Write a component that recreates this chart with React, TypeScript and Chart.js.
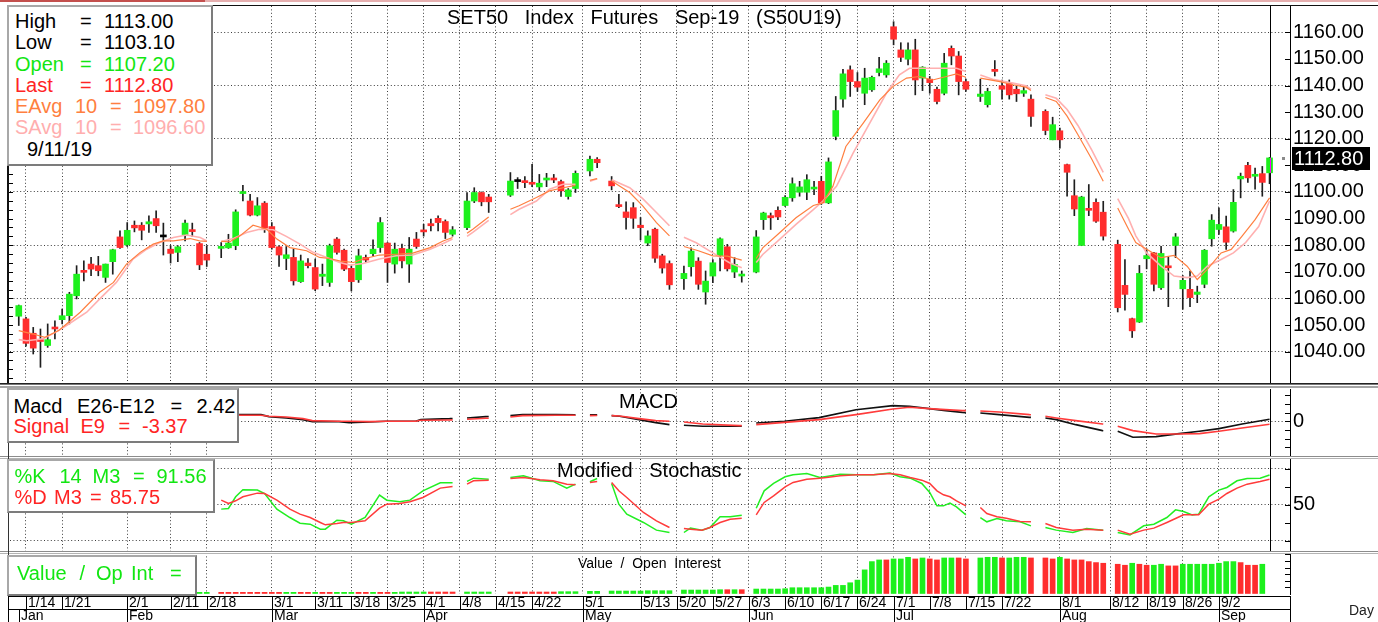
import React, { useEffect, useRef } from "react";
import { Chart, registerables } from "chart.js";

Chart.register(...registerables);

const FONT = "'Liberation Sans', Arial, Helvetica, sans-serif";
const NARROW = "'Liberation Sans Narrow', 'Arial Narrow', 'Liberation Sans', sans-serif";

// ---------------- calendar ----------------
const HOLIDAYS = ["2/19", "4/8", "4/15", "4/16", "5/1", "5/6", "5/20", "6/3", "7/16", "7/29", "8/12"];
const WEEK_TICKS = ["1/14", "1/21", "2/1", "2/11", "2/18", "3/1", "3/11", "3/18", "3/25", "4/1", "4/8", "4/15", "4/22", "5/1", "5/13", "5/20", "5/27", "6/3", "6/10", "6/17", "6/24", "7/1", "7/8", "7/15", "7/22", "8/1", "8/12", "8/19", "8/26", "9/2"];
const MONTH_TICKS: [string, string][] = [["Jan", "1/11"], ["Feb", "2/1"], ["Mar", "3/1"], ["Apr", "4/1"], ["May", "5/1"], ["Jun", "6/3"], ["Jul", "7/1"], ["Aug", "8/1"], ["Sep", "9/2"]];
const LAST_DATE = "9/11/19";

// ---------------- daily OHLC (trading days 1/11 .. 9/11) ----------------
const OPEN = [
  1053.3, 1052.3, 1046.9, 1044.5, 1042.3, 1049.1, 1052.0, 1053.5, 1061.0, 1070.1, 1072.9, 1072.3, 1067.9, 1073.8, 1083.1, 1080.1, 1087.5, 1087.5, 1088.0, 1090.0, 1083.1, 1078.5, 1077.3, 1084.0, 1085.5, 1080.6, 1076.6,
  1078.8, 1079.0, 1079.8, 1099.4, 1096.6, 1091.3, 1095.8, 1087.0, 1079.4, 1075.0, 1075.4, 1066.3, 1073.3, 1071.6, 1068.3, 1066.0, 1082.3, 1078.1, 1071.3, 1067.0, 1075.4, 1076.8, 1079.1, 1080.8, 1072.9, 1078.8, 1072.9, 1082.3, 1085.6, 1088.1, 1090.1, 1088.9, 1084.1,
  1086.6, 1096.6, 1099.8, 1098.1,
  1098.8, 1103.9, 1104.1, 1103.5, 1101.9, 1104.5, 1105.0, 1103.9, 1098.3, 1101.3,
  1107.9, 1112.3,
  1104.1, 1095.0, 1092.5, 1094.1, 1087.5, 1080.8, 1086.0, 1076.0, 1073.1,
  1067.4, 1071.9, 1074.0, 1062.4, 1068.4, 1076.1, 1079.4, 1069.9, 1068.4,
  1069.9, 1089.6, 1091.1, 1093.1, 1094.9, 1097.8, 1099.9, 1099.9, 1101.1, 1104.0, 1095.9, 1120.9, 1134.9, 1145.9, 1141.5, 1137.1, 1138.4, 1144.9, 1144.0, 1162.1, 1153.4, 1149.9, 1153.4, 1142.8, 1142.4, 1138.6, 1137.1, 1154.0, 1151.1, 1141.5,
  1135.9, 1132.8, 1146.1, 1139.9, 1140.9, 1138.6, 1137.1, 1134.9,
  1130.3, 1119.6, 1123.0, 1110.3, 1098.6, 1079.9, 1093.6, 1096.1, 1092.4,
  1080.3, 1064.9, 1052.4, 1051.1, 1074.9, 1077.1, 1064.0, 1072.1, 1079.9, 1063.6, 1063.4, 1061.5, 1065.3, 1082.4, 1085.9, 1086.9, 1085.3, 1104.9, 1110.0, 1105.9, 1106.9, 1107.2,
];
const HIGH = [
  1057.5, 1052.9, 1049.1, 1048.5, 1050.4, 1051.6, 1056.0, 1062.3, 1072.3, 1074.1, 1075.4, 1075.8, 1072.9, 1078.5, 1085.4, 1088.5, 1089.1, 1088.5, 1091.0, 1092.9, 1088.3, 1079.8, 1079.8, 1089.4, 1088.3, 1081.0, 1079.8,
  1081.0, 1084.1, 1093.3, 1102.5, 1099.1, 1097.9, 1096.4, 1088.5, 1079.8, 1079.5, 1078.5, 1076.3, 1075.0, 1074.8, 1072.9, 1080.4, 1082.9, 1078.5, 1072.3, 1078.5, 1076.3, 1082.0, 1090.4, 1081.0, 1080.8, 1080.4, 1082.9, 1084.8, 1087.9, 1089.8, 1091.0, 1089.5, 1087.0,
  1099.8, 1101.6, 1100.0, 1099.1,
  1107.3, 1105.4, 1105.8, 1110.4, 1106.6, 1107.0, 1106.6, 1104.5, 1101.3, 1107.9,
  1113.5, 1112.9,
  1105.8, 1099.1, 1096.3, 1096.0, 1090.4, 1085.4, 1086.4, 1076.6, 1074.1,
  1072.1, 1079.0, 1075.3, 1070.3, 1074.6, 1082.8, 1080.3, 1075.3, 1070.3,
  1085.5, 1092.4, 1092.1, 1094.4, 1098.6, 1105.3, 1104.0, 1106.5, 1104.0, 1105.9, 1112.8, 1135.9, 1146.1, 1147.4, 1144.9, 1146.5, 1143.6, 1150.6, 1149.4, 1164.0, 1156.1, 1156.1, 1157.4, 1147.1, 1143.4, 1139.4, 1152.1, 1154.9, 1152.8, 1142.4,
  1142.4, 1139.0, 1149.4, 1142.1, 1142.1, 1139.9, 1139.4, 1136.5,
  1130.9, 1128.1, 1124.0, 1110.5, 1104.6, 1098.4, 1102.8, 1097.4, 1096.5,
  1081.9, 1074.6, 1052.6, 1072.4, 1078.6, 1077.3, 1079.6, 1075.6, 1084.4, 1068.6, 1070.3, 1064.6, 1078.4, 1091.5, 1094.0, 1090.9, 1100.9, 1107.1, 1111.1, 1109.0, 1109.6, 1113.0,
];
const LOW = [
  1049.8, 1042.0, 1039.1, 1034.1, 1041.6, 1044.8, 1050.4, 1050.4, 1059.8, 1066.6, 1068.5, 1068.5, 1066.0, 1069.1, 1078.8, 1079.5, 1085.0, 1082.0, 1084.8, 1084.8, 1076.3, 1073.3, 1073.8, 1081.6, 1083.3, 1070.8, 1072.0,
  1075.3, 1078.8, 1078.3, 1096.6, 1091.0, 1091.0, 1084.8, 1078.5, 1072.0, 1070.8, 1065.0, 1066.0, 1071.5, 1062.9, 1064.8, 1064.5, 1076.6, 1070.4, 1062.8, 1066.0, 1073.5, 1076.0, 1077.3, 1066.0, 1069.5, 1071.5, 1066.0, 1078.8, 1083.4, 1085.4, 1085.4, 1082.5, 1083.4,
  1085.8, 1096.0, 1094.8, 1092.3,
  1098.3, 1101.3, 1101.6, 1102.0, 1100.5, 1102.0, 1103.5, 1098.3, 1097.3, 1099.8,
  1106.0, 1109.1,
  1100.8, 1094.1, 1086.0, 1086.3, 1082.0, 1079.8, 1073.5, 1069.5, 1063.4,
  1063.4, 1068.4, 1063.4, 1057.8, 1065.9, 1070.3, 1070.3, 1067.8, 1066.1,
  1069.6, 1085.9, 1085.9, 1089.6, 1094.6, 1096.5, 1098.4, 1097.1, 1099.0, 1095.3, 1095.6, 1119.6, 1131.9, 1135.9, 1137.8, 1132.8, 1137.8, 1143.6, 1143.1, 1155.3, 1149.0, 1147.8, 1136.5, 1138.1, 1137.1, 1133.1, 1136.5, 1147.8, 1136.5, 1137.8,
  1134.0, 1131.9, 1143.6, 1134.9, 1134.9, 1134.0, 1135.9, 1124.6,
  1121.5, 1119.6, 1116.5, 1098.4, 1091.1, 1079.8, 1091.1, 1088.6, 1081.9,
  1054.9, 1055.6, 1045.3, 1050.9, 1071.1, 1062.8, 1063.4, 1056.9, 1075.3, 1055.9, 1056.9, 1058.4, 1064.0, 1079.6, 1084.0, 1078.4, 1084.9, 1097.8, 1103.6, 1101.1, 1098.4, 1103.1,
];
const CLOSE = [
  1057.3, 1043.1, 1041.3, 1043.8, 1044.5, 1048.5, 1053.5, 1061.6, 1069.1, 1069.8, 1071.0, 1070.4, 1072.9, 1078.3, 1079.1, 1085.6, 1086.5, 1085.6, 1088.8, 1087.3, 1083.1, 1076.9, 1079.4, 1088.3, 1085.1, 1072.6, 1074.4,
  1079.4, 1080.8, 1092.5, 1099.9, 1091.3, 1094.8, 1086.4, 1079.1, 1076.3, 1076.4, 1066.6, 1074.1, 1072.3, 1063.5, 1069.1, 1079.8, 1077.3, 1071.0, 1066.3, 1076.0, 1074.4, 1078.5, 1088.5, 1073.5, 1078.5, 1074.1, 1078.5, 1079.5, 1085.0, 1087.3, 1088.5, 1084.8, 1085.8,
  1096.6, 1099.8, 1096.3, 1096.3,
  1104.1, 1103.9, 1103.5, 1102.9, 1103.3, 1105.0, 1104.5, 1100.4, 1100.8, 1107.0,
  1112.3, 1111.0,
  1102.3, 1094.5, 1090.4, 1090.1, 1086.6, 1083.5, 1075.1, 1071.4, 1065.1,
  1069.4, 1077.8, 1065.3, 1066.5, 1073.4, 1082.4, 1071.1, 1072.8, 1068.9,
  1083.1, 1092.1, 1090.3, 1090.6, 1098.0, 1103.1, 1101.9, 1104.6, 1101.5, 1095.9, 1111.3, 1130.6, 1144.4, 1141.5, 1139.4, 1142.8, 1143.1, 1146.3, 1148.4, 1157.4, 1150.6, 1153.4, 1142.1, 1146.9, 1141.1, 1134.0, 1148.4, 1151.1, 1141.5, 1138.6,
  1136.8, 1137.8, 1145.3, 1138.6, 1136.5, 1136.9, 1138.1, 1128.4,
  1123.1, 1125.3, 1119.6, 1107.4, 1093.6, 1098.1, 1093.1, 1089.0, 1083.4,
  1056.5, 1061.5, 1047.8, 1069.4, 1076.1, 1065.3, 1076.9, 1071.5, 1083.1, 1066.8, 1060.3, 1062.4, 1078.1, 1089.4, 1087.8, 1081.1, 1096.1, 1105.9, 1105.3, 1106.5, 1103.6, 1112.8,
];

// ---------------- moving averages, read as [session slot, value] ----------------
const EAVG10: [number, number][] = [
  [0, 1047.9], [2, 1046.6], [3.6, 1045.4], [5.5, 1047.9], [6.6, 1050.4], [8.5, 1054.8], [11.2, 1062.3], [13.1, 1066], [14.9, 1072.9], [16.8, 1077.3], [18.6, 1080.4], [20, 1081.6], [21.4, 1081.6], [23.7, 1082.5], [25, 1081.6], [26, 1081.4],
  [28, 1081.4], [29.2, 1081.3], [30.6, 1083.5], [32.4, 1087.5], [34.3, 1086], [35.7, 1082.3], [37.5, 1079.1], [39.8, 1077.9], [41.6, 1075.4], [43, 1075], [44.5, 1074], [46.3, 1073.5], [47.6, 1074.8], [49.9, 1076.3], [52.2, 1076.6], [54.5, 1077], [56.9, 1079.1], [58.7, 1081.6], [60, 1082.9],
  [62, 1084.5], [62.8, 1086], [64.9, 1090.4], [65, 1090.6],
  [68, 1093.5], [69.2, 1094.8], [71.6, 1097.9], [73.4, 1100.4], [75.3, 1101.6], [77, 1102.5],
  [79, 1104.4], [80, 1105],
  [82, 1104.1], [84.5, 1099.8], [86.3, 1094.8], [88.2, 1088.5], [90, 1083.5],
  [92, 1079.5], [94, 1077.9], [96, 1076], [98, 1075.9], [100, 1074.4],
  [102, 1075], [102.9, 1079], [105.2, 1084.6], [107.5, 1090.3], [109.9, 1094.9], [111.2, 1095.9], [112.6, 1102.1], [114.4, 1117.1], [116.8, 1125.9], [119.1, 1134.6], [120.9, 1139.6], [122.8, 1142.8], [124.6, 1143.4], [126.4, 1142.1], [128.3, 1143.4], [129.7, 1144.4], [131, 1143.1],
  [133, 1142.8], [135.7, 1141.5], [137.5, 1140.3], [139.3, 1139.4], [140, 1138.1],
  [142, 1135.5], [143.5, 1134], [145, 1128.5], [146.5, 1121.5], [148.4, 1112.4], [150, 1104],
  [152, 1094], [153.5, 1086], [154.5, 1081], [156, 1078.5], [158, 1075.3], [159.8, 1076.2], [161.6, 1072.1], [163, 1067.1], [164.4, 1070.9], [166.3, 1077.1], [167.7, 1078.4], [169.2, 1083.4], [171, 1089.6], [173, 1097.8],
];
const SAVG10: [number, number][] = [
  [0, 1044.5], [1.1, 1044.1], [3.4, 1044.8], [5.5, 1047.9], [6.6, 1049.8], [9.4, 1054.8], [11.2, 1059.8], [13.5, 1066], [15.8, 1074.8], [17.7, 1078.5], [19.5, 1081], [21.4, 1082.9], [23.2, 1083.8], [25.1, 1082.9], [26, 1081.6],
  [28, 1081.4], [29.7, 1082.5], [31.5, 1084.8], [33.3, 1086], [35.2, 1085.8], [37, 1083.3], [38.9, 1080.4], [40.7, 1077.3], [42.6, 1075.4], [44.4, 1073.5], [45.8, 1072.5], [47.6, 1073.1], [49.9, 1074.8], [52.2, 1076], [54.5, 1076.3], [56.9, 1078.5], [58.7, 1080.6], [60, 1082.3],
  [62, 1083.3], [62.8, 1084.8], [64.9, 1089.1], [65, 1089.3],
  [68, 1091.5], [69.2, 1093.5], [71.6, 1096.6], [73.4, 1101], [75.3, 1102.9], [77, 1102.9],
  [79, 1104], [80, 1105],
  [82, 1104.6], [84.5, 1101.6], [86.3, 1097.5], [88.2, 1092.3], [90, 1087.3],
  [92, 1083], [93.7, 1080.9], [96, 1077.1], [98.3, 1073.4], [100, 1071.5],
  [102, 1073.5], [102.9, 1076.5], [105.2, 1082.1], [107.5, 1087.8], [109.9, 1093.4], [111.2, 1096.5], [113.1, 1102.1], [115.4, 1114.6], [117.7, 1125.9], [120, 1137.1], [121.8, 1144], [123.2, 1146.5], [125.5, 1146.5], [128.3, 1146.5], [129.7, 1146.5], [131, 1145.3],
  [133, 1144], [134.7, 1142.4], [137.5, 1140.9], [139.3, 1139.9], [140, 1138.6],
  [142, 1136.5], [143.5, 1135.2], [145, 1131], [146.5, 1125], [148.4, 1115.8], [150, 1107.4],
  [152, 1097.5], [153.5, 1090], [154.5, 1083.5], [156, 1077.1], [158, 1072.1], [159.8, 1068.4], [161.6, 1067.8], [163, 1068.4], [164.4, 1072.1], [166.3, 1074.6], [168, 1077.1], [169.7, 1081], [171.5, 1087], [173, 1096.6],
];

// ---------------- MACD (E26-E12) and signal (E9) ----------------
const MACD_LINE: [number, number][] = [
  [28, 7.7], [30.5, 7.7], [33.5, 7.7], [34.6, 5.4], [37, 3.9], [39.3, 1.9], [40.6, -0.4], [44.3, -0.4], [45.7, -1.5], [48.5, -0.8], [50.8, 0], [54.9, 0], [55.6, 1.9], [59.6, 3.1], [60, 3.3],
  [62, 3.9], [64.6, 5.4], [65, 5.6], [68, 6.6], [69.7, 7.7], [74.3, 7.7], [77, 7.4], [79, 7.4], [80, 7.4],
  [82, 6.6], [83.1, 5.8], [85.8, 1.9], [88.1, -1.5], [90, -3.9], [92, -4.6], [94.6, -5.8], [100, -5.8],
  [102, -1.9], [105.9, 0], [110.7, 4.3], [115.8, 13.5], [120.9, 18.2], [123.2, 17.4], [125.9, 14.7], [128.2, 12.4], [130.5, 10.4], [131, 10.1],
  [133, 9.7], [135.6, 7.7], [139.8, 4.6], [140, 4.5], [142, 3.9], [143.5, 1.9], [146.2, -3.9], [149.9, -10.8], [150, -10.9],
  [152, -11.6], [154.1, -18.6], [157.3, -17.8], [160.5, -14.3], [163.3, -11.6], [166, -8.5], [169.2, -3.1], [173, 2.42],
];
const SIGNAL_LINE: [number, number][] = [
  [28, 7.0], [30.5, 7.0], [33.5, 7.0], [34.6, 5.8], [37, 5.0], [39.3, 3.1], [40.6, 0.8], [44.3, 0], [45.7, 0], [48.5, -0.4], [50.8, 0], [54.9, 0], [55.6, 1.2], [59.6, 1.5], [60, 1.6],
  [62, 2.3], [64.6, 3.5], [65, 3.6], [68, 5.0], [69.7, 6.6], [74.3, 7.0], [77, 7.0], [79, 6.6], [80, 6.8],
  [82, 6.6], [83.1, 6.2], [85.8, 3.1], [88.1, 0.8], [90, 0], [92, -0.8], [94.6, -3.1], [99.7, -5.0], [100, -5.0],
  [102, -3.9], [105.9, -1.2], [110.7, 1.9], [115.8, 7.7], [120.9, 14.3], [123.2, 16.3], [125.9, 14.7], [128.2, 13.5], [130.5, 12.4], [131, 12.4],
  [133, 12.0], [135.6, 10.8], [139.8, 7.7], [140, 7.6], [142, 5.8], [143.5, 3.9], [146.2, 0.8], [149.9, -3.1], [150, -3.2],
  [152, -5.8], [154.1, -10.8], [157.3, -14.7], [160.5, -14.7], [163.3, -14.3], [166, -11.6], [169.2, -7.7], [173, -3.37],
];

// ---------------- Modified stochastic %K 14 M3 and %D M3 ----------------
const STOCH_K: [number, number][] = [
  [28, 44.0], [29, 44.9], [30, 61.2], [31, 70.9], [33, 70.5], [34, 65.8], [35.7, 44.0], [37.5, 32.3], [38.9, 24.4], [40.3, 23.0], [41.7, 16.1], [42.4, 16.1], [44, 28.6], [44.9, 27.7], [46, 23.0], [47.9, 32.3], [49.9, 63.5], [50.9, 56.5], [52.7, 54.2], [54.1, 56.5], [55.9, 69.5], [58.3, 80.7], [60, 80.7],
  [62, 82.6], [62.9, 87.2], [65, 85.8], [68, 88.1], [69.8, 90.5], [72.1, 83.5], [73.9, 82.6], [75.8, 73.3], [77, 78.8], [79, 82.1], [80, 86.7],
  [82, 79.8], [83, 50.9], [84.1, 37.0], [86.4, 25.4], [88.2, 14.7], [90, 11.4], [92, 11.4], [92.9, 17.5], [94.5, 14.7], [95.6, 18.4], [97, 33.3], [98.4, 33.3], [100, 35.6],
  [102, 45.3], [103.1, 69.5], [104.4, 79.8], [106, 89.1], [107.1, 91.9], [109, 93.7], [110.8, 88.1], [111.7, 89.5], [113.6, 92.8], [115.9, 91.9], [118.2, 91.9], [120.5, 94.2], [121.9, 89.1], [123.3, 87.2], [124.9, 79.8], [126, 67.2], [127, 48.6], [127.9, 48.6], [128.8, 52.3], [129.7, 47.2], [131, 36.0],
  [133, 32.3], [133.9, 26.3], [135.3, 30.9], [136.6, 27.7], [138.5, 26.3], [140, 20.7], [142, 18.4], [143.5, 14.7], [145.8, 11.4], [147.7, 17.0], [150, 14.7],
  [152, 11.4], [153.7, 8.1], [155.6, 20.7], [157, 23.0], [158.8, 32.3], [160, 43.0], [161.1, 40.7], [162.3, 36.0], [163.2, 37.0], [164.6, 61.2], [166, 70.5], [167.1, 74.2], [168.5, 83.5], [169.9, 86.7], [171.7, 87.2], [173, 91.56],
];
const STOCH_D: [number, number][] = [
  [28, 56.5], [29, 51.9], [30, 55.6], [31, 61.2], [33, 66.3], [34, 65.8], [35.7, 56.5], [37.5, 44.0], [38.9, 37.0], [40.3, 32.3], [41.7, 25.4], [42.4, 22.1], [44, 24.0], [44.9, 25.4], [46, 25.4], [47.9, 27.7], [49.9, 45.4], [50.9, 50.9], [52.7, 51.9], [54.1, 54.2], [55.9, 60.2], [58.3, 73.3], [60, 75.6],
  [62, 78.8], [62.9, 83.5], [65, 84.4], [68, 86.7], [69.8, 88.1], [72.1, 84.9], [73.9, 83.5], [75.8, 78.8], [77, 77.9], [79, 81.2], [80, 82.6],
  [82, 81.2], [83, 69.5], [84.1, 60.2], [86.4, 39.3], [88.2, 27.7], [90, 18.4], [92, 17.0], [92.9, 16.1], [94.5, 14.7], [95.6, 18.4], [97, 25.4], [98.4, 30.0], [100, 31.4],
  [102, 36.0], [103.1, 53.3], [104.4, 62.6], [106, 75.1], [107.1, 81.2], [109, 85.8], [110.8, 87.2], [111.7, 88.1], [113.6, 90.5], [115.9, 91.9], [118.2, 91.9], [120.5, 93.7], [121.9, 91.9], [123.3, 88.1], [124.9, 84.4], [126, 79.8], [127, 69.5], [127.9, 64.0], [128.8, 61.2], [129.7, 55.6], [131, 48.6],
  [133, 46.3], [133.9, 37.9], [135.3, 33.3], [136.6, 31.4], [138.5, 26.8], [140, 26.3], [142, 24.0], [143.5, 18.4], [145.8, 14.7], [147.7, 16.1], [150, 14.7],
  [152, 14.7], [153.7, 9.1], [155.6, 14.7], [157, 17.5], [158.8, 25.4], [160, 30.9], [161.1, 36.0], [162.3, 36.0], [163.2, 36.0], [164.6, 50.9], [166, 57.9], [167.1, 65.8], [168.5, 73.3], [169.9, 78.8], [171.7, 82.6], [173, 85.75],
];

// ---------------- Value / Open Interest (per trading day, relative units) ----------------
const VALUE_OI: (number | null)[] = [
  4, 4, 4, 4, 4, 4, 4, 4, 4, 4, 4, 4, 4, 4, 4, 4, 4, 4, 4, 4, 4, 4, 4, 4, 4, 5, 5,
  5, 5, 5, 5, 5, 5, 5, 5, 5, 5, 5, 5, 5, 5, 5, 5, 5, 5, 5, 5, 5, 5, 5, 5, 5, 6, 6, 6, 6, 6, 6, 6, 6,
  6, 6, 6, 6,
  6, 6, 6, 6, 6, 6, 6, 7, 7, 7,
  8, 8,
  9, 9, 9, 9, 9, 10, 10, 10, 10,
  12, 12, 12, 12, 12, 13, 13, 13, 13,
  15, 15, 15, 15, 16, 19, 19, 19, 19, 19, 21, 26, 26, 34, 42, 73, 98, 103, 103, 106, 106, 111, 106, 109, 106, 103, 109, 109, 109, 106,
  109, 111, 111, 109, 109, 111, 111, 109,
  109, 106, 111, 106, 103, 103, 98, 95, 93,
  90, 87, 93, 90, 87, 87, 90, 85, 85, 90, 90, 90, 90, 90, 93, 98, 98, 95, 87, 87, 90, null,
];
const VALUE_OI_DIR =
  "ggrggrrggrgrrgggrrggrggrrgg" +
  "rrrrrrr" + "rrggrrgrrgggrrgrrg" + "gggg" + "rrrr" +
  "gggg" +
  "rrrrrrrggg" +
  "gg" +
  "ggggggggg" +
  "ggggggrgr" +
  "gggggggggggggggggg" + "rgggrgrrggrr" +
  "gggrgggr" +
  "rrgrrrrrr" +
  "rrgrrggrrggggggggrrrgg";

// ---------------- axis values ----------------
const PRICE_TICKS = [1040, 1050, 1060, 1070, 1080, 1090, 1100, 1110, 1120, 1130, 1140, 1150, 1160];
const MACD_MARKS = [-30, -20, -10, 0, 10, 20, 30];
const STOCH_MARKS = [0, 25, 50, 75, 100];
const VALUE_MARKS = [20, 40, 60, 80, 100, 120];

// ---------------- derived calendar helpers ----------------
function weekdaySlots(): string[] {
  const out: string[] = [];
  const d = new Date(2019, 0, 11);
  const end = new Date(2019, 8, 11);
  while (d <= end) {
    const wd = d.getDay();
    if (wd > 0 && wd < 6) out.push(`${d.getMonth() + 1}/${d.getDate()}`);
    d.setDate(d.getDate() + 1);
  }
  return out;
}
const SLOTS = weekdaySlots();
const slotOf = (lbl: string) => SLOTS.indexOf(lbl);
const HOLIDAY_SLOTS = HOLIDAYS.map(slotOf);
const TRADING_SLOTS = SLOTS.map((_, i) => i).filter((i) => !HOLIDAY_SLOTS.includes(i));
const LAST_SLOT = TRADING_SLOTS[TRADING_SLOTS.length - 1];

type Pt = { x: number; y: number | null };
function withGaps(samples: [number, number][]): Pt[] {
  const pts: Pt[] = samples.map(([x, y]) => ({ x, y }));
  const first = samples[0][0];
  const last = samples[samples.length - 1][0];
  HOLIDAY_SLOTS.forEach((h) => {
    if (h > first && h < last) pts.push({ x: h, y: null });
  });
  return pts.sort((a, b) => a.x - b.x);
}
const lastOf = (a: [number, number][]) => a[a.length - 1][1];

// ---------------- colours ----------------
const C_GREEN = "#1DF01D";
const C_RED = "#FF2D2D";
const T_GREEN = "#12E612";
const T_RED = "#FF2424";
const T_ORANGE = "#FF7F40";
const T_PINK = "#FFAEAE";

// ---------------- geometry ----------------
const W = 1378;
const X_MIN = -1.213;
const X_MAX = 175.83;
const AXIS_W = 88;

function xAxis(): any {
  return {
    type: "linear",
    min: X_MIN,
    max: X_MAX,
    offset: false,
    afterBuildTicks: (s: any) => {
      s.ticks = WEEK_TICKS.map((l) => ({ value: slotOf(l) }));
    },
    afterFit: (s: any) => {
      s.height = 0;
      s.paddingLeft = 0;
      s.paddingRight = 0;
      s.paddingTop = 0;
      s.paddingBottom = 0;
    },
    ticks: { display: false },
    grid: { display: true, color: "#3c3c3c", lineWidth: 1, drawTicks: false, offset: false },
    border: { display: false, dash: [1, 2.4] },
  };
}

function yAxis(min: number, max: number, ticks: number[], label: (v: number) => string, gridOn: (v: number) => boolean, marks: number[]): any {
  return {
    position: "right",
    min,
    max,
    marks,
    afterBuildTicks: (s: any) => {
      s.ticks = ticks.map((v) => ({ value: v }));
    },
    afterFit: (s: any) => {
      s.width = AXIS_W;
      s.paddingTop = 0;
      s.paddingBottom = 0;
      s.paddingLeft = 0;
      s.paddingRight = 0;
    },
    ticks: {
      autoSkip: false,
      maxRotation: 0,
      color: "#000",
      padding: 3,
      font: { family: FONT, size: 20 },
      callback: (v: any) => label(Number(v)),
    },
    grid: {
      drawTicks: false,
      lineWidth: 1,
      color: (c: any) => (c.tick && gridOn(c.tick.value) ? "#3c3c3c" : "rgba(0,0,0,0)"),
    },
    border: { display: true, color: "#000", width: 1, dash: [1, 2.4] },
  };
}

const whiteBg = {
  id: "whiteBg",
  beforeDraw(c: any) {
    const { ctx, width, height } = c;
    ctx.save();
    ctx.fillStyle = "#fff";
    ctx.fillRect(0, 0, width, height);
    ctx.restore();
  },
};

// small inward tick marks on the right-hand value axis
const axisMarks = {
  id: "axisMarks",
  afterDraw(c: any) {
    const { ctx, chartArea: a, scales } = c;
    const marks: number[] = scales.y.options.marks || [];
    ctx.save();
    ctx.fillStyle = "#000";
    marks.forEach((v) => {
      const y = Math.round(scales.y.getPixelForValue(v));
      if (y >= a.top && y <= a.bottom) ctx.fillRect(a.right - 5, y, 5, 1);
    });
    ctx.restore();
  },
};

const lastBarLine = {
  id: "lastBarLine",
  beforeDatasetsDraw(c: any) {
    const { ctx, chartArea: a, scales } = c;
    const x = Math.round(scales.x.getPixelForValue(LAST_SLOT)) + 0.5;
    ctx.save();
    ctx.strokeStyle = "#000";
    ctx.lineWidth = 1;
    ctx.beginPath();
    ctx.moveTo(x, a.top);
    ctx.lineTo(x, a.bottom);
    ctx.stroke();
    ctx.restore();
  },
};

const priceExtras = {
  id: "priceExtras",
  afterDatasetsDraw(c: any) {
    const { ctx, scales } = c;
    const i = CLOSE.length - 1;
    const x = Math.round(scales.x.getPixelForValue(LAST_SLOT)) + 0.5;
    ctx.save();
    ctx.strokeStyle = "#FF00FF";
    ctx.lineWidth = 1;
    ctx.beginPath();
    ctx.moveTo(x, scales.y.getPixelForValue(CLOSE[i]));
    ctx.lineTo(x, scales.y.getPixelForValue(OPEN[i]));
    ctx.stroke();
    ctx.restore();
  },
  afterDraw(c: any) {
    const { ctx, chartArea: a, scales } = c;
    const v = CLOSE[CLOSE.length - 1];
    const y = Math.round(scales.y.getPixelForValue(v));
    ctx.save();
    ctx.fillStyle = "#000";
    ctx.fillRect(a.right + 2, y - 11, 78, 23);
    ctx.fillStyle = "#fff";
    ctx.font = `20px ${FONT}`;
    ctx.textBaseline = "middle";
    ctx.textAlign = "left";
    ctx.fillText(v.toFixed(2), a.right + 4, y + 1);
    ctx.fillStyle = "#8a8a8a";
    ctx.fillRect(a.right - 8, y - 1, 3, 3);
    // minor ticks on the left edge
    ctx.fillStyle = "#000";
    const step = 20 / 6;
    for (let p = 1100; p > scales.y.min; p -= step) ctx.fillRect(a.left - 1, Math.round(scales.y.getPixelForValue(p)), 4, 1);
    for (let p = 1100 + step; p < scales.y.max; p += step) ctx.fillRect(a.left - 1, Math.round(scales.y.getPixelForValue(p)), 4, 1);
    ctx.restore();
  },
};

const dateAxis = {
  id: "dateAxis",
  afterDraw(c: any) {
    const { ctx, chartArea: a, scales, height } = c;
    const r1 = Math.round(a.bottom) + 2;
    const r2 = r1 + 13;
    ctx.save();
    ctx.fillStyle = "#000";
    ctx.fillRect(8, r1, a.right - 8, 1);
    ctx.fillRect(8, r2, a.right - 8, 1);
    ctx.fillRect(8, r1, 1, height - r1);
    ctx.fillRect(a.right, r1, 1, height - r1);
    ctx.font = `14px ${NARROW}`;
    ctx.textBaseline = "middle";
    ctx.textAlign = "left";
    WEEK_TICKS.forEach((l) => {
      const x = Math.round(scales.x.getPixelForValue(slotOf(l)));
      ctx.fillRect(x, r1, 1, 13);
      ctx.fillText(l, x + 2, r1 + 7.5);
    });
    MONTH_TICKS.forEach(([m, d]) => {
      const x = Math.round(scales.x.getPixelForValue(slotOf(d)));
      ctx.fillRect(x, r2, 1, height - r2);
      ctx.fillText(m, x + 2, r2 + 7.5);
    });
    ctx.restore();
  },
};

function baseOptions(y: any, padBottom = 0): any {
  return {
    responsive: false,
    animation: false,
    events: [],
    layout: { padding: { left: 10, right: 0, top: 0, bottom: padBottom }, autoPadding: false },
    plugins: { legend: { display: false }, tooltip: { enabled: false }, title: { display: false } },
    scales: { x: xAxis(), y },
  };
}

function line(data: Pt[], color: string, width: number, order: number): any {
  return { type: "line", data, borderColor: color, borderWidth: width, pointRadius: 0, tension: 0, spanGaps: false, order };
}

// ---------------- text helpers ----------------
type TItem = [number, number, string, string];
function Texts({ items, size = 20, font = FONT }: { items: TItem[]; size?: number; font?: string }) {
  return (
    <>
      {items.map(([x, y, t, col], k) => (
        <div
          key={k}
          style={{
            position: "absolute",
            left: x,
            top: y - size * 0.5635,
            font: `${size}px ${font}`,
            lineHeight: `${size * 1.15}px`,
            color: col,
            whiteSpace: "pre",
            zIndex: 3,
          }}
        >
          {t}
        </div>
      ))}
    </>
  );
}

function Box({ x, y, w, h }: { x: number; y: number; w: number; h: number }) {
  return (
    <div
      style={{
        position: "absolute",
        left: x,
        top: y,
        width: w,
        height: h,
        boxSizing: "border-box",
        background: "#fff",
        borderTop: "2px solid #a8a8a8",
        borderLeft: "2px solid #a8a8a8",
        borderRight: "2px solid #7c7c7c",
        borderBottom: "2px solid #7c7c7c",
        zIndex: 2,
      }}
    />
  );
}

function HLine({ y, x = 0, w = W, h = 1, c = "#000" }: { y: number; x?: number; w?: number; h?: number; c?: string }) {
  return <div style={{ position: "absolute", left: x, top: y, width: w, height: h, background: c, zIndex: 1 }} />;
}

export default function App() {
  const priceRef = useRef<HTMLCanvasElement>(null);
  const macdRef = useRef<HTMLCanvasElement>(null);
  const stochRef = useRef<HTMLCanvasElement>(null);
  const volRef = useRef<HTMLCanvasElement>(null);

  useEffect(() => {
    const bodyColors = OPEN.map((o, i) => (CLOSE[i] > o ? C_GREEN : CLOSE[i] < o ? C_RED : "#000"));
    const price = new Chart(priceRef.current as HTMLCanvasElement, {
      type: "line",
      data: {
        datasets: [
          line(withGaps(EAVG10), "#FF7F40", 1.2, 0),
          line(withGaps(SAVG10), "#FFB0B0", 1.6, 1),
          {
            type: "bar",
            data: TRADING_SLOTS.map((s, i) => ({ x: s, y: [OPEN[i], CLOSE[i]] })),
            backgroundColor: bodyColors,
            barThickness: 6,
            grouped: false,
            minBarLength: 2,
            borderWidth: 0,
            order: 2,
          } as any,
          {
            type: "bar",
            data: TRADING_SLOTS.map((s, i) => ({ x: s, y: [LOW[i], HIGH[i]] })),
            backgroundColor: "#1e1e1e",
            barThickness: 1,
            grouped: false,
            borderWidth: 0,
            order: 3,
          } as any,
        ],
      },
      options: baseOptions(
        yAxis(1028.2, 1169.9, PRICE_TICKS, (v) => v.toFixed(2), (v) => Math.round(v) % 20 === 0, PRICE_TICKS)
      ),
      plugins: [whiteBg, lastBarLine, priceExtras, axisMarks],
    });

    const macd = new Chart(macdRef.current as HTMLCanvasElement, {
      type: "line",
      data: {
        datasets: [line(withGaps(SIGNAL_LINE), "#FF3B3B", 1.6, 0), line(withGaps(MACD_LINE), "#111", 1.6, 1)],
      },
      options: baseOptions(yAxis(-40.3, 37.5, [0], (v) => String(v), () => true, MACD_MARKS)),
      plugins: [whiteBg, lastBarLine, axisMarks],
    });

    const stoch = new Chart(stochRef.current as HTMLCanvasElement, {
      type: "line",
      data: {
        datasets: [line(withGaps(STOCH_D), "#FF3B3B", 1.5, 0), line(withGaps(STOCH_K), "#22EE22", 1.5, 1)],
      },
      options: baseOptions(yAxis(-14.4, 113.9, [0, 50, 100], (v) => (v === 50 ? "50" : ""), () => true, STOCH_MARKS)),
      plugins: [whiteBg, lastBarLine, axisMarks],
    });

    const volData = TRADING_SLOTS.map((s, i) => ({ x: s, y: VALUE_OI[i] }));
    const vol = new Chart(volRef.current as HTMLCanvasElement, {
      type: "line",
      data: {
        datasets: [
          {
            type: "bar",
            data: volData,
            backgroundColor: TRADING_SLOTS.map((_, i) => (VALUE_OI_DIR[i] === "r" ? C_RED : C_GREEN)),
            barThickness: 5,
            grouped: false,
            borderWidth: 0,
          } as any,
        ],
      },
      options: baseOptions(yAxis(0, 124, [0], () => "", () => false, VALUE_MARKS), 28),
      plugins: [whiteBg, dateAxis, axisMarks],
    });

    return () => {
      price.destroy();
      macd.destroy();
      stoch.destroy();
      vol.destroy();
    };
  }, []);

  const n = CLOSE.length - 1;
  const priceLegend: TItem[] = [
    [15, 21.7, "High", "#000"], [80, 21.7, "=", "#000"], [104, 21.7, HIGH[n].toFixed(2), "#000"],
    [15, 42.7, "Low", "#000"], [80, 42.7, "=", "#000"], [104, 42.7, LOW[n].toFixed(2), "#000"],
    [15, 64, "Open", T_GREEN], [80, 64, "=", T_GREEN], [104, 64, OPEN[n].toFixed(2), T_GREEN],
    [15, 85, "Last", T_RED], [80, 85, "=", T_RED], [104, 85, CLOSE[n].toFixed(2), T_RED],
    [15, 106.7, "EAvg", T_ORANGE], [75, 106.7, "10", T_ORANGE], [110, 106.7, "=", T_ORANGE], [133, 106.7, lastOf(EAVG10).toFixed(2), T_ORANGE],
    [15, 127.7, "SAvg", T_PINK], [75, 127.7, "10", T_PINK], [110, 127.7, "=", T_PINK], [133, 127.7, lastOf(SAVG10).toFixed(2), T_PINK],
    [27, 149.3, LAST_DATE, "#000"],
  ];
  const macdLegend: TItem[] = [
    [13.5, 406, "Macd", "#000"], [77, 406, "E26-E12", "#000"], [170.5, 406, "=", "#000"], [196.5, 406, lastOf(MACD_LINE).toFixed(2), "#000"],
    [13.5, 426.7, "Signal", T_RED], [80.5, 426.7, "E9", T_RED], [118.5, 426.7, "=", T_RED], [142, 426.7, lastOf(SIGNAL_LINE).toFixed(2), T_RED],
  ];
  const stochLegend: TItem[] = [
    [14.5, 476.7, "%K", T_GREEN], [59.5, 476.7, "14", T_GREEN], [92.5, 476.7, "M3", T_GREEN], [133, 476.7, "=", T_GREEN], [156.5, 476.7, lastOf(STOCH_K).toFixed(2), T_GREEN],
    [14.5, 497.3, "%D", T_RED], [54, 497.3, "M3", T_RED], [90, 497.3, "=", T_RED], [110, 497.3, lastOf(STOCH_D).toFixed(2), T_RED],
  ];
  const volLegend: TItem[] = [
    [17, 573.3, "Value", T_GREEN], [79.5, 573.3, "/", T_GREEN], [96, 573.3, "Op", T_GREEN], [131, 573.3, "Int", T_GREEN], [170, 573.3, "=", T_GREEN],
  ];
  const titles: TItem[] = [
    [447, 17, "SET50   Index   Futures   Sep-19   (S50U19)", "#000"],
    [619, 401, "MACD", "#000"],
    [557, 470.5, "Modified   Stochastic", "#000"],
  ];

  const canvasStyle = (top: number, h: number): React.CSSProperties => ({ position: "absolute", left: 0, top, width: W, height: h, display: "block" });

  return (
    <div style={{ position: "absolute", left: 0, top: 0, width: W, height: 622, background: "#fff", overflow: "hidden" }}>
      <canvas ref={priceRef} width={W} height={377} style={canvasStyle(6, 377)} />
      <canvas ref={macdRef} width={W} height={67} style={canvasStyle(389, 67)} />
      <canvas ref={stochRef} width={W} height={92} style={canvasStyle(459, 92)} />
      <canvas ref={volRef} width={W} height={69} style={canvasStyle(553, 69)} />

      {/* window frame */}
      <HLine y={0} x={0} w={205} h={2} c="#C4504E" />
      <HLine y={0} x={205} w={W - 205} h={2} c="#E6AFAF" />
      <HLine y={5} x={7} w={W - 7} h={1} c="#111" />
      <HLine y={383} h={1} c="#222" />
      <HLine y={384} h={1} c="#777" />
      <HLine y={386} h={2} c="#a4a4a4" />
      <HLine y={456} h={1} c="#8c8c8c" />
      <HLine y={458} h={1} c="#b4b4b4" />
      <HLine y={551} h={1} c="#8c8c8c" />
      <HLine y={553} h={1} c="#b4b4b4" />
      <div style={{ position: "absolute", left: 7, top: 5, width: 2, height: 378, background: "#111", zIndex: 1 }} />
      <div style={{ position: "absolute", left: 8, top: 389, width: 1, height: 207, background: "#333", zIndex: 1 }} />

      {/* legend boxes */}
      <Box x={7} y={5} w={206} h={161} />
      <Box x={7} y={388} w={232} h={55} />
      <Box x={7} y={459} w={208} h={54} />
      <Box x={7} y={555} w={190} h={41} />

      <Texts items={priceLegend} />
      <Texts items={macdLegend} />
      <Texts items={stochLegend} />
      <Texts items={volLegend} />
      <Texts items={titles} />
      <Texts items={[[578, 563, "Value  /  Open  Interest", "#000"]]} size={14} />
      <Texts items={[[1349, 610, "Day", "#222"]]} size={14} />
    </div>
  );
}
